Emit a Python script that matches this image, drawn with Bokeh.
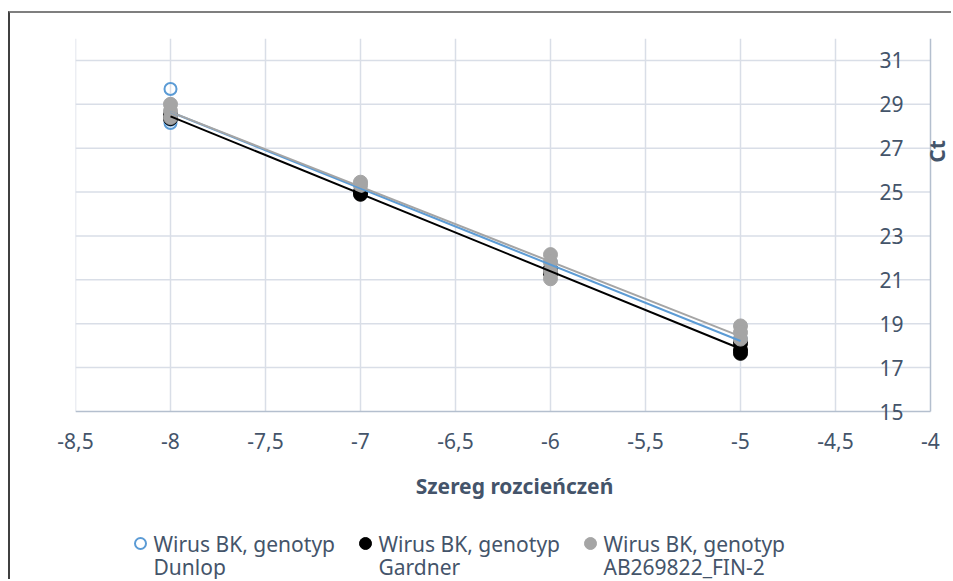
import numpy as np
from bokeh.plotting import figure
from bokeh.layouts import column
from bokeh.models import FixedTicker, Range1d, Label
from bokeh.core.properties import value
from bokeh.embed import file_html
from bokeh.resources import INLINE

# ---------------- data ----------------
x_dunlop = [-8, -8, -8, -7, -7, -6, -6, -5, -5]
ct_dunlop = [29.7, 28.3, 28.15, 25.1, 24.95, 21.8, 21.55, 18.35, 18.2]

x_gardner = [-8, -8, -7, -7, -6, -6, -5, -5, -5]
ct_gardner = [28.5, 28.35, 25.0, 24.9, 21.5, 21.3, 18.1, 17.8, 17.65]

x_fin2 = [-8, -8, -8, -7, -7, -6, -6, -6, -6, -5, -5, -5]
ct_fin2 = [29.0, 28.7, 28.4, 25.45, 25.3, 22.15, 21.8, 21.4, 21.05, 18.9, 18.6, 18.3]

series_names = ["Wirus BK, genotyp\nDunlop",
                "Wirus BK, genotyp\nGardner",
                "Wirus BK, genotyp\nAB269822_FIN-2"]

x_ticks = [-8.5, -8.0, -7.5, -7.0, -6.5, -6.0, -5.5, -5.0, -4.5, -4.0]
x_tick_labels = ["-8,5", "-8", "-7,5", "-7", "-6,5", "-6", "-5,5", "-5", "-4,5", "-4"]
y_ticks = [15, 17, 19, 21, 23, 25, 27, 29, 31]

x_title = "Szereg rozcieńczeń"
y_title = "Ct"

# ---------------- style ----------------
FONT = "Noto Sans"
FS = "21px"
TXT = "#44546A"
GRID = "#D9DEE7"
AXIS = "#B4BFCE"
BLUE = "#5B9BD5"
GRAY = "#A5A5A5"
BLACK = "#000000"

# page geometry
OX, OY = 10, 13            # canvas origin on page (after margin + border)
SPLIT = 520                # page y where the legend strip starts
W = 953 - OX
H1 = SPLIT - OY
H2 = 581 - SPLIT
FL, FR, FT, FB = 75, 930, 38, 411   # plot-area edges on page
XMIN, XMAX, YMIN, YMAX = -8.5, -4.0, 15, 32
PX_PER_X = (FR - FL) / (XMAX - XMIN)
PX_PER_Y = (FB - FT) / (YMAX - YMIN)
X_END = XMAX + (953 - FR) / PX_PER_X   # frame runs on to the right page edge
PAD_B = 14                              # frame extends a little below y=15
Y_START = YMIN - PAD_B / PX_PER_Y

p = figure(width=W, height=H1, output_backend="svg", toolbar_location=None,
           x_range=Range1d(XMIN, X_END), y_range=Range1d(Y_START, YMAX),
           y_axis_location="left",
           min_border_left=FL - OX, min_border_right=0,
           min_border_top=FT - OY, min_border_bottom=SPLIT - FB - PAD_B)
p.outline_line_color = None
p.background_fill_color = "white"
p.border_fill_color = "white"
p.styles = {"margin-left": "8px", "margin-top": "11px",
            "border-left": "2px solid #404040",
            "border-top": "2px solid #7F7F7F"}

# x axis: tick labels and title from the axis, its line drawn at y = 15
xa = p.xaxis[0]
xa.ticker = FixedTicker(ticks=x_ticks)
xa.bounds = (XMIN, XMAX)
xa.major_label_overrides = {t: l for t, l in zip(x_ticks, x_tick_labels)}
xa.axis_line_color = None
xa.major_tick_line_color = None
xa.minor_tick_line_color = None
xa.major_label_text_font = FONT
xa.major_label_text_font_size = FS
xa.major_label_text_color = TXT
xa.major_label_standoff = 14 - PAD_B + 1
xa.axis_label = x_title
xa.axis_label_text_font = FONT
xa.axis_label_text_font_size = FS
xa.axis_label_text_font_style = "bold"
xa.axis_label_text_color = TXT
xa.axis_label_standoff = 20

# y axis crossing at x = -4, labels on its left
ya = p.yaxis[0]
ya.fixed_location = XMAX
ya.bounds = (YMIN, YMAX)
ya.ticker = FixedTicker(ticks=y_ticks)
ya.axis_line_color = AXIS
ya.axis_line_width = 1.5
ya.major_tick_line_color = None
ya.minor_tick_line_color = None
ya.major_label_text_font = FONT
ya.major_label_text_font_size = FS
ya.major_label_text_color = TXT
ya.major_label_standoff = 21

# grid lines limited to the plot area
p.xgrid.visible = False
p.ygrid.visible = False
gx = x_ticks[:-1]
p.segment(x0=gx, x1=gx, y0=[YMIN] * len(gx), y1=[YMAX] * len(gx),
          line_color=GRID, line_width=1.5)
gy = y_ticks[1:]
p.segment(x0=[XMIN] * len(gy), x1=[XMAX] * len(gy), y0=gy, y1=gy,
          line_color=GRID, line_width=1.5)
# horizontal axis line at y = 15
p.segment(x0=[XMIN], x1=[XMAX], y0=[YMIN], y1=[YMIN],
          line_color=AXIS, line_width=1.5)

# points
r1 = p.scatter(x_dunlop, ct_dunlop, size=12, marker="circle",
               fill_color="white", fill_alpha=0, line_color=BLUE, line_width=2)
r2 = p.scatter(x_gardner, ct_gardner, size=14, marker="circle",
               fill_color=BLACK, line_color=BLACK)
r3 = p.scatter(x_fin2, ct_fin2, size=14, marker="circle",
               fill_color=GRAY, line_color=GRAY)

# linear trend lines
for xs, ys, col in [(x_dunlop, ct_dunlop, BLUE), (x_gardner, ct_gardner, BLACK),
                    (x_fin2, ct_fin2, GRAY)]:
    k, b = np.polyfit(xs, ys, 1)
    xe = np.array([min(xs), max(xs)], dtype=float)
    p.line(xe, k * xe + b, line_color=col, line_width=2)

# y-axis title, right of the axis
p.add_layout(Label(x=XMAX, y=26.85, x_offset=6, text=y_title, angle=np.pi / 2,
                   text_font=FONT, text_font_size=FS, text_font_style="bold",
                   text_color=TXT, text_align="center", text_baseline="middle"))

# ---------------- legend strip (page-pixel coordinates, y downward) ----------
# the column aligns this strip's frame with the chart frame (FL..953)
lg = figure(width=W, height=H2, output_backend="svg", toolbar_location=None,
            x_range=Range1d(FL, 953), y_range=Range1d(581, SPLIT),
            x_axis_location=None, y_axis_location=None,
            min_border=0, min_border_left=0, min_border_right=0,
            min_border_top=0, min_border_bottom=0)
lg.outline_line_color = None
lg.grid.visible = False
lg.background_fill_color = "white"
lg.border_fill_color = "white"
lg.styles = {"margin-left": "8px", "border-left": "2px solid #404040"}

marker_x = [140, 365, 590]
row1_y, row2_y = 545, 568
lg.scatter([marker_x[0]], [row1_y], size=11, marker="circle", fill_alpha=0,
           line_color=BLUE, line_width=2)
lg.scatter([marker_x[1]], [row1_y], size=12, marker="circle",
           fill_color=BLACK, line_color=BLACK)
lg.scatter([marker_x[2]], [row1_y], size=12, marker="circle",
           fill_color=GRAY, line_color=GRAY)
first = [s.split("\n")[0] for s in series_names]
second = [s.split("\n")[1] for s in series_names]
tx = [m + 13 for m in marker_x]
lg.text(x=tx + tx, y=[row1_y] * 3 + [row2_y] * 3, text=first + second,
        text_font=value(FONT), text_font_size=FS, text_color=TXT,
        text_baseline="middle", text_align="left")

layout = column(p, lg, spacing=0)
open("out.html", "w").write(file_html(layout, INLINE))
